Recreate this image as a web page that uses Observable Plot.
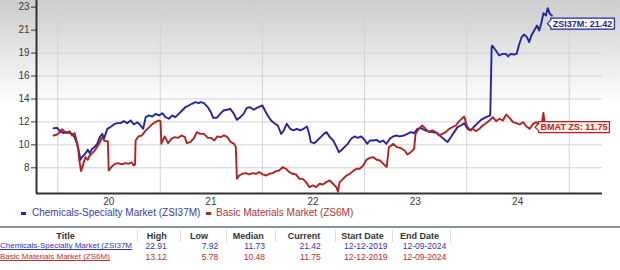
<!DOCTYPE html>
<html>
<head>
<meta charset="utf-8">
<script src="https://cdn.jsdelivr.net/npm/d3@7"></script>
<script src="https://cdn.jsdelivr.net/npm/@observablehq/plot@0.6"></script>
<style>
  html, body { margin: 0; padding: 0; }
  body {
    width: 620px; height: 270px; position: relative; overflow: hidden;
    background: linear-gradient(to bottom, #cdcdcd 0px, #ffffff 105px, #ffffff 270px);
    font-family: "Liberation Sans", Arial, sans-serif;
  }
  #chart { position: absolute; left: 0; top: 0; }
  #chart svg { background: transparent !important; overflow: visible; }
  .legend { position: absolute; top: 207px; left: 0; height: 12px; font-size: 10px; line-height: 12px; white-space: nowrap; }
  .legend .item { position: absolute; top: 0; }
  .legend .sw { position: absolute; top: 5px; width: 5px; height: 3px; }
  .sep { position: absolute; left: 0; top: 226px; width: 620px; height: 2px; background: #8a95a2; }
  .cell { position: absolute; white-space: nowrap; }
  .hdr { font-size: 9px; font-weight: bold; color: #333; line-height: 11px; top: 230.5px; text-align: center; }
  .div { position: absolute; top: 230px; width: 1px; height: 12px; background: #dedede; }
  .row { font-size: 8.5px; line-height: 10px; }
  .ttl { text-decoration: underline; font-size: 8px; }
</style>
</head>
<body>
<div id="chart"></div>
<div class="legend" id="legend"></div>
<div class="sep"></div>
<div id="table"></div>
<script>
// ---------------- data ----------------
const seriesNames = ["Chemicals-Specialty Market (ZSI37M)", "Basic Materials Market (ZS6M)"];
const seriesColors = ["#2424a6", "#b32222"];
const legendColors = ["#3d3da3", "#b43535"];
const tagTexts = ["ZSI37M: 21.42", "BMAT ZS: 11.75"];
const tagValues = [21.42, 11.75];

const blueDates = ["2019-12-17","2019-12-30","2020-01-08","2020-01-22","2020-02-03","2020-02-21","2020-03-01","2020-03-10","2020-03-18","2020-03-22","2020-03-28","2020-04-05","2020-04-12","2020-04-17","2020-04-24","2020-05-03","2020-05-11","2020-05-21","2020-05-30","2020-06-08","2020-06-14","2020-06-26","2020-07-07","2020-07-19","2020-07-31","2020-08-12","2020-08-24","2020-09-05","2020-09-17","2020-09-29","2020-10-11","2020-10-23","2020-11-01","2020-11-10","2020-11-22","2020-12-04","2020-12-16","2020-12-28","2021-01-08","2021-01-20","2021-02-01","2021-02-13","2021-02-24","2021-03-08","2021-03-20","2021-04-01","2021-04-13","2021-04-24","2021-05-07","2021-05-18","2021-05-26","2021-06-06","2021-06-20","2021-07-01","2021-07-09","2021-07-22","2021-08-03","2021-08-15","2021-08-27","2021-09-08","2021-09-20","2021-10-02","2021-10-14","2021-10-26","2021-11-06","2021-11-18","2021-12-01","2021-12-12","2021-12-24","2022-01-01","2022-01-10","2022-01-20","2022-02-01","2022-02-13","2022-02-25","2022-03-09","2022-03-17","2022-03-29","2022-04-10","2022-04-22","2022-05-04","2022-05-16","2022-05-28","2022-06-09","2022-06-17","2022-06-23","2022-07-05","2022-07-16","2022-07-28","2022-08-09","2022-08-18","2022-08-30","2022-09-11","2022-09-23","2022-10-01","2022-10-09","2022-10-21","2022-11-02","2022-11-14","2022-11-26","2022-12-08","2022-12-20","2023-01-01","2023-01-10","2023-01-20","2023-02-01","2023-02-13","2023-02-25","2023-03-08","2023-03-20","2023-04-01","2023-04-13","2023-04-25","2023-05-06","2023-05-22","2023-06-03","2023-06-15","2023-06-27","2023-07-09","2023-07-20","2023-08-01","2023-08-13","2023-08-31","2023-09-18","2023-10-06","2023-10-24","2023-11-05","2023-11-17","2023-11-29","2023-12-11","2023-12-23","2024-01-04","2024-01-16","2024-01-28","2024-02-09","2024-02-21","2024-03-10","2024-03-25","2024-03-30","2024-04-01","2024-04-14","2024-04-26","2024-05-08","2024-05-20","2024-05-28","2024-06-06","2024-06-18","2024-06-27","2024-07-07","2024-07-15","2024-07-24","2024-08-03","2024-08-11","2024-08-19","2024-08-29","2024-09-08","2024-09-16","2024-09-24","2024-10-01","2024-10-10","2024-10-16","2024-10-24","2024-10-31"];
const blueValues = [11.70,11.73,11.42,11.24,11.33,11.17,10.86,10.24,9.31,8.75,9.00,9.24,9.46,9.68,9.37,9.77,9.93,10.24,10.86,11.17,10.71,11.64,11.80,12.05,12.17,12.17,12.36,12.17,12.42,12.05,12.26,11.95,11.64,12.73,12.89,12.79,13.04,12.89,13.10,12.73,12.58,12.89,12.73,13.04,13.35,13.66,13.82,13.98,14.13,14.04,14.13,14.04,13.66,13.20,12.67,12.67,13.04,13.35,13.42,13.51,13.10,12.48,12.73,13.04,13.60,13.66,13.42,13.60,13.73,13.82,13.35,12.89,12.42,12.17,11.95,11.17,11.42,12.11,11.64,11.49,11.64,11.49,11.64,11.86,11.17,10.40,10.30,10.55,10.86,11.17,11.33,10.86,10.55,9.93,9.46,9.62,9.93,10.24,10.71,10.93,10.80,10.93,10.61,10.24,10.55,10.55,10.61,10.40,10.55,10.24,10.71,10.93,11.02,10.93,11.02,11.17,11.33,11.24,11.64,11.73,11.55,11.42,11.33,11.24,10.80,10.40,10.86,11.33,11.80,11.95,12.17,11.64,11.49,11.86,12.17,12.48,12.73,12.89,19.27,19.42,18.96,18.49,18.64,18.64,18.40,18.64,18.58,18.64,19.58,20.20,20.45,20.20,19.73,20.36,20.82,21.29,20.82,21.60,22.44,22.22,22.91,22.38,22.22];

const redDates = ["2019-12-17","2019-12-30","2020-01-08","2020-01-16","2020-01-24","2020-02-03","2020-02-12","2020-02-21","2020-03-01","2020-03-08","2020-03-14","2020-03-18","2020-03-24","2020-03-29","2020-04-03","2020-04-09","2020-04-17","2020-04-24","2020-05-03","2020-05-14","2020-05-26","2020-06-02","2020-06-08","2020-06-16","2020-06-28","2020-07-01","2020-07-10","2020-07-23","2020-08-04","2020-08-16","2020-08-28","2020-09-09","2020-09-21","2020-09-28","2020-10-03","2020-10-05","2020-10-15","2020-10-27","2020-11-08","2020-11-20","2020-12-02","2020-12-14","2020-12-26","2021-01-02","2021-01-05","2021-01-17","2021-01-29","2021-02-10","2021-02-22","2021-03-06","2021-03-18","2021-03-30","2021-04-06","2021-04-18","2021-04-30","2021-05-12","2021-05-24","2021-06-06","2021-06-20","2021-07-01","2021-07-13","2021-07-24","2021-08-05","2021-08-17","2021-08-29","2021-09-10","2021-09-22","2021-09-28","2021-10-02","2021-10-10","2021-10-22","2021-11-03","2021-11-15","2021-11-27","2021-12-09","2021-12-21","2022-01-02","2022-01-14","2022-01-26","2022-02-07","2022-02-19","2022-03-02","2022-03-14","2022-03-26","2022-04-07","2022-04-19","2022-05-01","2022-05-13","2022-05-25","2022-06-06","2022-06-18","2022-06-30","2022-07-12","2022-07-24","2022-08-05","2022-08-17","2022-08-29","2022-09-10","2022-09-22","2022-09-28","2022-10-04","2022-10-16","2022-10-28","2022-11-09","2022-11-21","2022-12-03","2022-12-15","2022-12-27","2023-01-08","2023-01-20","2023-02-01","2023-02-13","2023-02-25","2023-03-09","2023-03-21","2023-03-29","2023-04-14","2023-04-26","2023-05-10","2023-05-24","2023-06-03","2023-06-15","2023-06-27","2023-07-02","2023-07-14","2023-07-26","2023-08-07","2023-08-19","2023-08-31","2023-09-12","2023-09-24","2023-10-06","2023-10-18","2023-10-30","2023-11-11","2023-11-23","2023-12-05","2023-12-23","2024-01-01","2024-01-10","2024-01-22","2024-02-03","2024-02-15","2024-02-27","2024-03-10","2024-03-22","2024-04-03","2024-04-15","2024-04-27","2024-05-09","2024-05-21","2024-06-02","2024-06-14","2024-06-26","2024-07-08","2024-07-20","2024-08-01","2024-08-13","2024-08-25","2024-09-06","2024-09-18","2024-09-27","2024-10-01","2024-10-05"];
const redValues = [11.02,11.11,11.33,11.61,11.42,11.24,11.42,11.02,11.24,10.55,9.77,8.68,7.69,8.06,8.53,9.00,8.75,9.15,9.37,9.68,10.18,10.55,10.86,10.49,10.49,7.75,8.06,8.37,8.44,8.31,8.44,8.37,8.50,8.22,8.31,10.55,10.93,11.02,11.42,11.73,12.05,12.26,12.42,12.36,10.24,10.93,10.30,10.71,10.86,10.80,11.02,10.86,10.30,10.40,10.71,11.33,11.17,11.17,10.80,10.80,10.55,10.93,10.86,11.02,10.86,10.40,10.24,9.93,6.97,7.28,7.44,7.50,7.38,7.50,7.44,7.60,7.38,7.28,7.44,7.50,7.69,7.75,8.06,7.91,7.60,7.44,7.38,6.97,6.97,6.66,6.19,6.35,6.19,6.51,6.44,6.66,6.82,6.51,6.19,5.78,6.66,6.97,7.28,7.44,7.69,7.91,7.91,8.22,8.75,8.93,9.00,8.75,8.68,8.37,8.06,9.93,10.24,9.93,9.85,9.62,9.24,9.46,9.77,11.17,11.64,11.95,11.64,11.33,11.49,11.33,11.02,11.17,11.33,11.64,11.80,11.95,12.36,12.79,11.95,11.55,11.64,11.42,11.64,11.95,12.17,12.42,12.73,12.36,12.58,12.42,12.98,12.67,12.26,12.17,12.05,12.26,11.86,11.64,12.11,12.26,11.80,12.42,13.12,12.17];

// axis: the source chart places 8 evenly spaced ticks from 8 to 23, with rounded labels
const yTickLabels = ["8","10","12","14","16","19","21","23"];
const yTickValues = yTickLabels.map((_, i) => 8 + i * 15 / (yTickLabels.length - 1));
const xGridDates = ["2020-01-01","2021-01-01","2022-01-01","2023-01-01","2024-01-01","2025-01-01"];
const xLabelDates = ["2020-07-01","2021-07-01","2022-07-01","2023-07-01","2024-07-01"];
const xTickLabels = ["20","21","22","23","24"];
const xDomain = ["2019-10-17","2025-04-30"];
const yDomain = [5.6, 23.626];

// table
const tableHeaders = ["Title","High","Low","Median","Current","Start Date","End Date"];
const tableTitles = ["Chemicals-Specialty Market (ZSI37M", "Basic Materials Market (ZS6M)"];
const tableHigh = ["22.91","13.12"];
const tableLow = ["7.92","5.78"];
const tableMedian = ["11.73","10.48"];
const tableCurrent = ["21.42","11.75"];
const tableStart = ["12-12-2019","12-12-2019"];
const tableEnd = ["12-09-2024","12-09-2024"];
const rowColors = ["#3535b0", "#c42c2c"];

// ---------------- build ----------------
const toRows = (ds, vs) => ds.map((d, i) => ({date: new Date(d), value: vs[i]}));
const blue = toRows(blueDates, blueValues);
const red = toRows(redDates, redValues);
const font = "'Liberation Sans', Arial, sans-serif";

const chart = Plot.plot({
  width: 620, height: 206,
  marginLeft: 36, marginRight: 18, marginTop: 0, marginBottom: 13,
  style: {fontFamily: font, fontSize: "10px", background: "transparent", color: "#3a3a3a"},
  x: {type: "time", domain: xDomain.map(d => new Date(d)), label: null},
  y: {domain: yDomain, label: null},
  marks: [
    Plot.gridY(yTickValues, {stroke: "#d2d2d2", strokeOpacity: 1}),
    Plot.gridX(xGridDates.map(d => new Date(d)), {stroke: "#d2d2d2", strokeOpacity: 1}),
    Plot.line(blue, {x: "date", y: "value", stroke: seriesColors[0], strokeWidth: 1.9}),
    Plot.line(red, {x: "date", y: "value", stroke: seriesColors[1], strokeWidth: 1.9}),
    Plot.ruleX([new Date(xDomain[0])], {stroke: "#333", strokeWidth: 2}),
    Plot.ruleY([yDomain[0]], {stroke: "#333", strokeWidth: 2}),
    Plot.axisY(yTickValues, {tickSize: 5, tickPadding: 2, stroke: "#333", label: null,
      tickFormat: d => yTickLabels[yTickValues.indexOf(d)], fill: "#3a3a3a"}),
    Plot.axisX(xLabelDates.map(d => new Date(d)), {tickSize: 0, tickPadding: 4, label: null,
      tickFormat: d => xTickLabels[xLabelDates.findIndex(s => +new Date(s) === +d)], fill: "#3a3a3a"})
  ]
});
document.getElementById("chart").appendChild(chart);

// last-value tags, positioned through the plot's own scales
const xs = chart.scale("x"), ys = chart.scale("y");
const lastDates = [blue[blue.length - 1].date, red[red.length - 1].date];
const tagDx = [-4, -9];
const tagFills = ["#ffffff", "#fdeee6"];
const tagText = ["#25258f", "#b02a2a"];
const svg = d3.select(chart);
tagTexts.forEach((txt, i) => {
  const px = xs.apply(lastDates[i]) + tagDx[i];
  const py = ys.apply(tagValues[i]);
  const m = 3.5, pad = 2, h = 11;
  const g = svg.append("g").attr("text-anchor", "start");
  const path = g.append("path");
  const t = g.append("text").attr("x", px + m + pad).attr("y", py).attr("dy", "0.35em")
    .attr("text-anchor", "start")
    .attr("font-size", 9).attr("font-weight", "bold").attr("font-family", font)
    .attr("fill", tagText[i]).text(txt);
  const w = t.node().getComputedTextLength() + 2 * pad;
  path.attr("d", `M${px},${py}l${m},${-m}v${-(h / 2 - m)}h${w}v${h}h${-w}v${-(h / 2 - m)}z`)
    .attr("fill", tagFills[i]).attr("stroke", seriesColors[i]).attr("stroke-width", 1.2);
});

// legend
const legend = document.getElementById("legend");
const legendX = [[21, 32], [206, 216]];
seriesNames.forEach((name, i) => {
  const sw = document.createElement("div");
  sw.className = "sw"; sw.style.left = legendX[i][0] + "px"; sw.style.background = seriesColors[i];
  legend.appendChild(sw);
  const it = document.createElement("div");
  it.className = "item"; it.style.left = legendX[i][1] + "px"; it.style.color = legendColors[i];
  it.textContent = name;
  legend.appendChild(it);
});

// table
const table = document.getElementById("table");
const add = (cls, text, style) => {
  const d = document.createElement("div");
  d.className = "cell " + cls; d.textContent = text;
  Object.assign(d.style, style); table.appendChild(d); return d;
};
const hdrCenters = [65.5, 156.7, 199, 248.3, 304, 362.5, 419.5];
tableHeaders.forEach((h, i) => add("hdr", h, {left: (hdrCenters[i] - 40) + "px", width: "80px"}));
[136.6, 180, 225.7, 275, 334.6, 392, 449.5].forEach(x => {
  const d = document.createElement("div"); d.className = "div"; d.style.left = x + "px"; table.appendChild(d);
});
const rowTops = [241.3, 252.3];
const rightCols = [[tableHigh, 166.7], [tableLow, 218.3], [tableMedian, 265], [tableCurrent, 320.7]];
const leftCols = [[tableStart, 344], [tableEnd, 402.7]];
tableTitles.forEach((title, r) => {
  const base = {top: rowTops[r] + "px", color: rowColors[r]};
  add("row ttl", title, Object.assign({left: "0px"}, base));
  rightCols.forEach(([arr, rx]) => add("row", arr[r], Object.assign({left: (rx - 60) + "px", width: "60px", textAlign: "right"}, base)));
  leftCols.forEach(([arr, lx]) => add("row", arr[r], Object.assign({left: lx + "px"}, base)));
});
</script>
</body>
</html>
